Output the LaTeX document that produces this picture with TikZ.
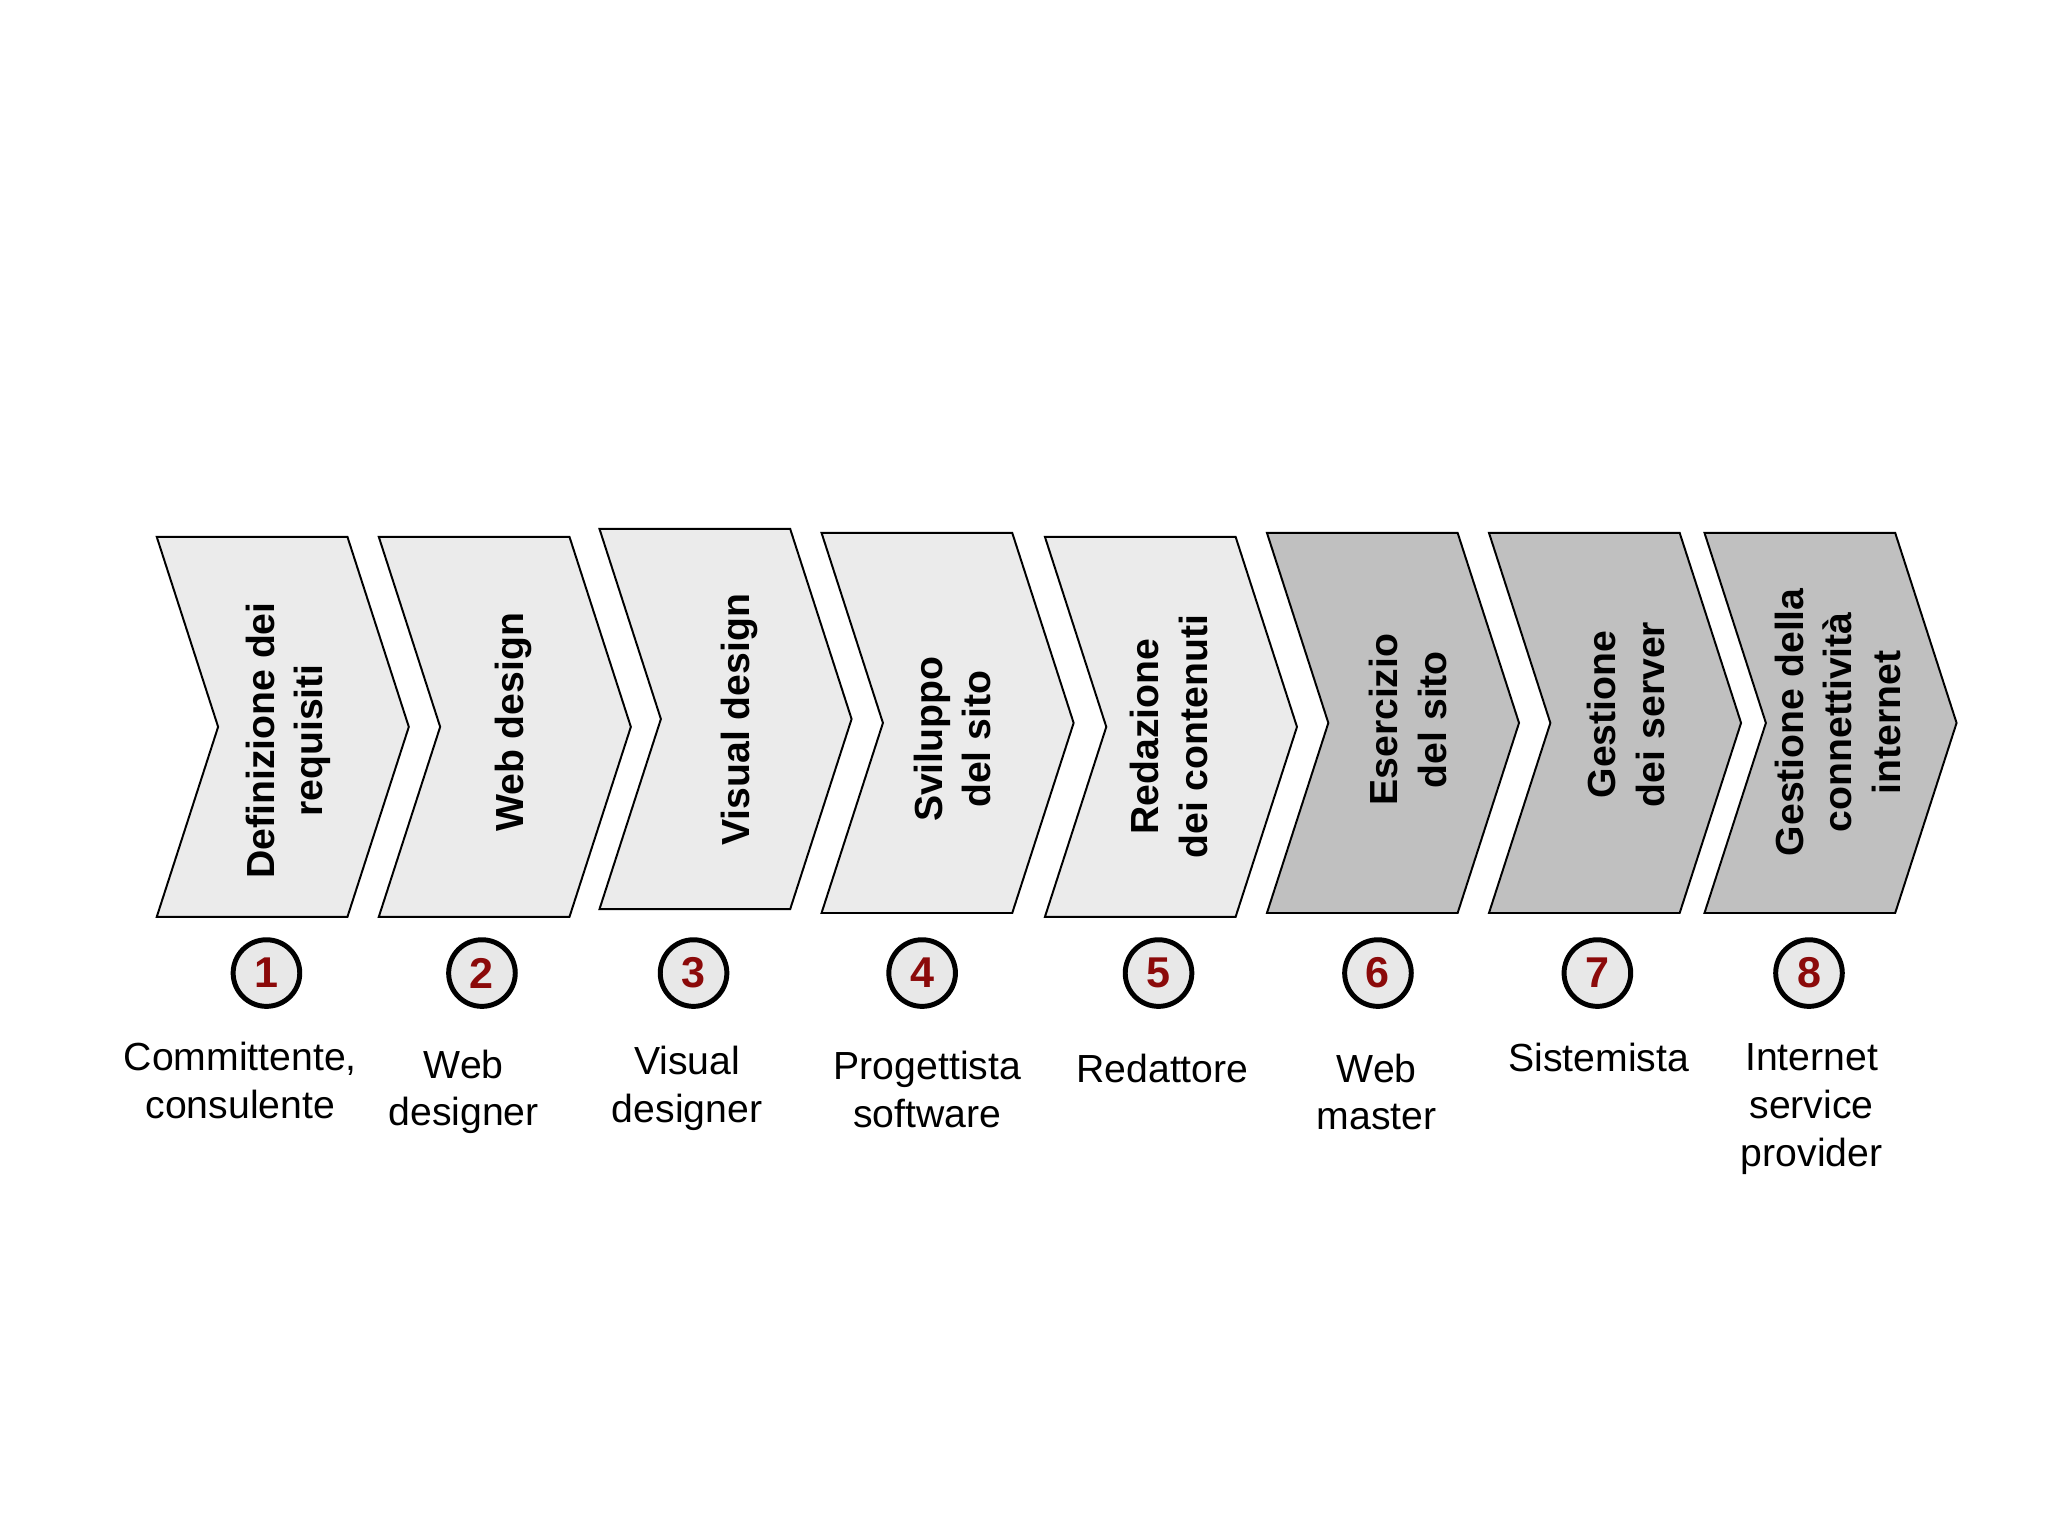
\documentclass[tikz,border=0pt]{standalone}
\usepackage{fontspec}
\setmainfont{Liberation Sans}
\definecolor{chevlight}{HTML}{EBEBEB}
\definecolor{chevdark}{HTML}{C0C0C0}
\definecolor{circfill}{HTML}{E8E8E8}
\definecolor{numred}{HTML}{8B0A0A}
\begin{document}
\begin{tikzpicture}[x=0.5pt,y=-0.5pt,
  chev/.style={draw=black, line width=0.75pt, line join=miter},
  ctext/.style={rotate=90, align=center, inner sep=0pt,
    font=\fontsize{15}{18.5}\selectfont\bfseries},
  num/.style={circle, draw=black, line width=1.9pt, fill=circfill,
    minimum size=25.5pt, inner sep=0pt,
    font=\fontsize{16.5}{18}\selectfont\bfseries, text=numred},
  lab/.style={align=center, inner sep=0pt,
    font=\fontsize{15}{18.3}\selectfont}]
\useasboundingbox[fill=white] (0,0) rectangle (1568,1176);
% chevrons: left x / top y / fill
\foreach \L/\T/\f [count=\i] in {120/411/chevlight,290/411/chevlight,459/405/chevlight,629/408/chevlight,800/411/chevlight,970/408/chevdark,1140/408/chevdark,1305/408/chevdark}{
  \filldraw[chev, fill=\f] (\L,\T) -- ++(146,0) -- ++(47,145.5) -- ++(-47,145.5)
    -- ++(-146,0) -- ++(47,-145.5) -- cycle;
}
% chevron texts
\node[ctext] (t1) at (221,567) {Definizione dei\\requisiti};
\node[ctext] (t2) at (393,553) {Web design};
\node[ctext] (t3) at (566,551) {Visual design};
\node[ctext] (t4) at (729,566) {Sviluppo\\del sito};
\node[ctext] (t5) at (895,564) {Redazione\\dei contenuti};
\node[ctext] (t6) at (1078,551) {Esercizio\\del sito};
\node[ctext] (t7) at (1245,547) {Gestione\\dei server};
\node[ctext] (t8) at (1407,553) {Gestione della\\connettività\\internet};
% numbered circles
\foreach \x [count=\i] in {204,369,531,706,887,1055,1223,1385}{
  \node[num] (n\i) at (\x,745) {\i};
}
% role labels
\node[lab] (r1) at (184,827) {Committente,\\consulente};
\node[lab] (r2) at (355,836) {Web\\designer};
\node[lab] (r3) at (526,833) {Visual\\designer};
\node[lab] (r4) at (710,834) {Progettista\\software};
\node[lab] (r5) at (890,818) {Redattore};
\node[lab] (r6) at (1054,836) {Web\\master};
\node[lab] (r7) at (1224,810) {Sistemista};
\node[lab] (r8) at (1387,849) {Internet\\service\\provider};
\end{tikzpicture}
\end{document}
